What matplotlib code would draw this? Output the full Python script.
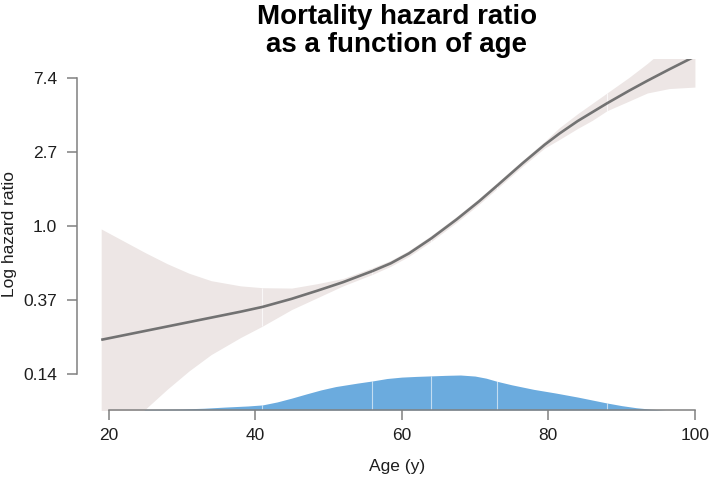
import matplotlib
matplotlib.use("Agg")
import matplotlib.pyplot as plt
import numpy as np

plt.rcParams['font.family'] = ['Liberation Sans', 'DejaVu Sans']

# ---- data ----
age = [19, 22, 25, 28, 31, 34, 38, 41, 45, 48.5, 52, 56, 58.5, 61, 64, 67.5,
       70.5, 73, 76.5, 79.5, 81.5, 84, 86, 88, 91, 93.5, 96.5, 100]
log_hr = [-1.54, -1.48, -1.42, -1.36, -1.30, -1.24, -1.16, -1.095, -0.985,
          -0.875, -0.76, -0.61, -0.505, -0.37, -0.17, 0.09, 0.33, 0.545, 0.85,
          1.10, 1.25, 1.42, 1.54, 1.66, 1.83, 1.965, 2.12, 2.295]
upper = [-0.04, -0.20, -0.36, -0.51, -0.64, -0.74, -0.81, -0.835, -0.84,
         -0.78, -0.71, -0.565, -0.465, -0.33, -0.13, 0.13, 0.37, 0.585, 0.89,
         1.145, 1.33, 1.52, 1.66, 1.80, 2.01, 2.20, 2.45, 2.75]
lower = [-3.04, -2.76, -2.48, -2.21, -1.96, -1.74, -1.51, -1.355, -1.13,
         -0.97, -0.81, -0.655, -0.545, -0.41, -0.21, 0.05, 0.29, 0.505, 0.81,
         1.055, 1.17, 1.32, 1.43, 1.56, 1.69, 1.80, 1.86, 1.88]

dens_age = [19, 22, 26, 30, 33, 36, 39, 41, 43, 45, 47, 49, 51, 54, 56, 58, 60,
            62, 64, 66, 68, 70, 71.5, 73, 75, 78, 81, 84, 86, 88, 90, 92, 94, 96]
dens = [0.0, 0.015, 0.02, 0.03, 0.05, 0.085, 0.115, 0.145, 0.23, 0.34, 0.46,
        0.575, 0.67, 0.77, 0.83, 0.9, 0.94, 0.96, 0.975, 0.99, 1.0, 0.97,
        0.91, 0.82, 0.72, 0.59, 0.485, 0.37, 0.285, 0.2, 0.125, 0.065,
        0.023, 0.0]

knots = [41, 56, 64, 73, 88]

yticks = [-2, -1, 0, 1, 2]
ytick_labels = ['0.14', '0.37', '1.0', '2.7', '7.4']
xticks = [20, 40, 60, 80, 100]

title = "Mortality hazard ratio\nas a function of age"
xlabel = "Age (y)"
ylabel = "Log hazard ratio"

# ---- figure ----
W, H = 709, 478
fig = plt.figure(figsize=(W / 100, H / 100), dpi=100)
L, R, T, B = 77, 709, 59, 410
ax = fig.add_axes([L / W, 1 - B / H, (R - L) / W, (B - T) / H])
ax.set_xlim(15.70, 101.92)
ax.set_ylim(-2.49, 2.26)

band_col = '#EDE6E5'
line_col = '#727272'
dens_col = '#6BABDE'
axis_col = '#808080'
text_col = '#1E1E1E'

ax.fill_between(age, lower, upper, color=band_col, lw=0, zorder=1)
for k in knots:
    i = age.index(k)
    ax.plot([k, k], [lower[i], upper[i]], color='white', lw=0.8, alpha=0.7,
            zorder=1.5, solid_capstyle='butt')
ax.plot(age, log_hr, color=line_col, lw=1.9, zorder=3, solid_capstyle='butt',
        solid_joinstyle='round')

# density on its own scale at the bottom
ax2 = ax.twinx()
ax2.set_ylim(0, 10.03)
ax2.axis('off')
ax2.fill_between(dens_age, 0, dens, color=dens_col, lw=0, zorder=2)
for k in knots:
    if k in dens_age:
        i = dens_age.index(k)
        ax2.plot([k, k], [0, dens[i]], color='white', lw=0.8, alpha=0.6,
                 solid_capstyle='butt')

for s in ['top', 'right']:
    ax.spines[s].set_visible(False)
for s in ['left', 'bottom']:
    ax.spines[s].set_color(axis_col)
    ax.spines[s].set_linewidth(1.1)
    ax.spines[s].set_zorder(5)
ax.spines['left'].set_bounds(-2, 2)
ax.spines['bottom'].set_bounds(20, 100)
ax.set_xticks(xticks)
ax.set_xticklabels([str(v) for v in xticks])
ax.set_yticks(yticks)
ax.set_yticklabels(ytick_labels)
ax.tick_params(axis='both', direction='out', length=7.2, width=1.1,
               color=axis_col, labelcolor=text_col, labelsize=12.5)
ax.tick_params(axis='y', pad=7)
ax.tick_params(axis='x', pad=5.5)
ax.set_zorder(2)
ax2.set_zorder(1)
ax.patch.set_visible(False)

fig.text(397 / W, 1 - 466 / H, xlabel, ha='center', va='center',
         fontsize=12.5, color=text_col)
fig.text(10 / W, 1 - 234 / H, ylabel, ha='center', va='center',
         rotation=90, fontsize=12.5, color=text_col)
fig.text(397 / W, 1 - 31 / H, title, ha='center', va='center',
         fontsize=20, fontweight='bold', color='black', linespacing=1.1)

fig.savefig('out.png', dpi=100)
